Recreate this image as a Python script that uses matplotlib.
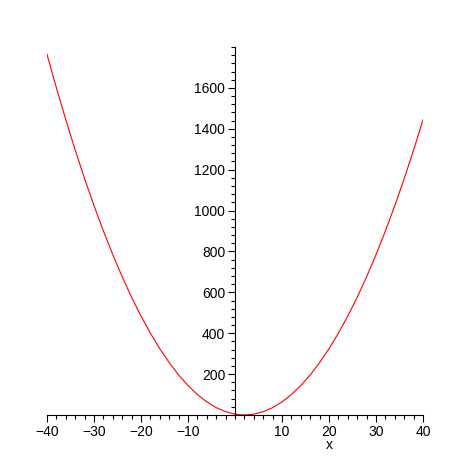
import matplotlib
matplotlib.use("Agg")
import matplotlib.pyplot as plt
from matplotlib.ticker import MultipleLocator, FixedLocator

x_vals = [-40, -38, -36, -34, -32, -30, -28, -26, -24, -22, -20, -18, -16, -14, -12,
          -10, -8, -6, -4, -2, 0, 2, 4, 6, 8, 10, 12, 14, 16, 18, 20, 22, 24, 26, 28,
          30, 32, 34, 36, 38, 40]
y_vals = [1764, 1600, 1444, 1296, 1156, 1024, 900, 784, 676, 576, 484, 400, 324, 256, 196,
          144, 100, 64, 36, 16, 4, 0, 4, 16, 36, 64, 100, 144, 196, 256, 324, 400, 484, 576, 676,
          784, 900, 1024, 1156, 1296, 1444]
x_ticks = [-40, -30, -20, -10, 10, 20, 30, 40]
y_ticks = [200, 400, 600, 800, 1000, 1200, 1400, 1600]

plt.rcParams['font.family'] = ['Liberation Sans', 'DejaVu Sans']

fig = plt.figure(figsize=(4.69, 4.69), dpi=100)
ax = fig.add_axes([47/469, 54/469, 376/469, 368/469])
ax.plot(x_vals, y_vals, color='red', lw=0.8)
ax.set_xlim(-40, 40)
ax.set_ylim(0, 1800)

for s in ['top', 'right']:
    ax.spines[s].set_visible(False)
ax.spines['left'].set_position(('data', 0))
ax.spines['bottom'].set_position(('data', 0))
ax.spines['left'].set_linewidth(0.8)
ax.spines['bottom'].set_linewidth(0.8)

ax.xaxis.set_major_locator(FixedLocator(x_ticks))
ax.xaxis.set_minor_locator(MultipleLocator(2))
ax.yaxis.set_major_locator(FixedLocator(y_ticks))
ax.yaxis.set_minor_locator(MultipleLocator(40))
ax.set_xticklabels([str(t).replace('-', '\u2212') for t in x_ticks])
ax.set_yticklabels([str(t) for t in y_ticks])
ax.tick_params(axis='both', which='major', direction='out', length=5, width=0.8, labelsize=10, pad=2)
ax.tick_params(axis='both', which='minor', direction='out', length=3, width=0.8)

ax.annotate('x', xy=(20, 0), xytext=(0, -30), textcoords='offset pixels',
            ha='center', va='center', fontsize=10)

fig.savefig('out.png', dpi=100)
